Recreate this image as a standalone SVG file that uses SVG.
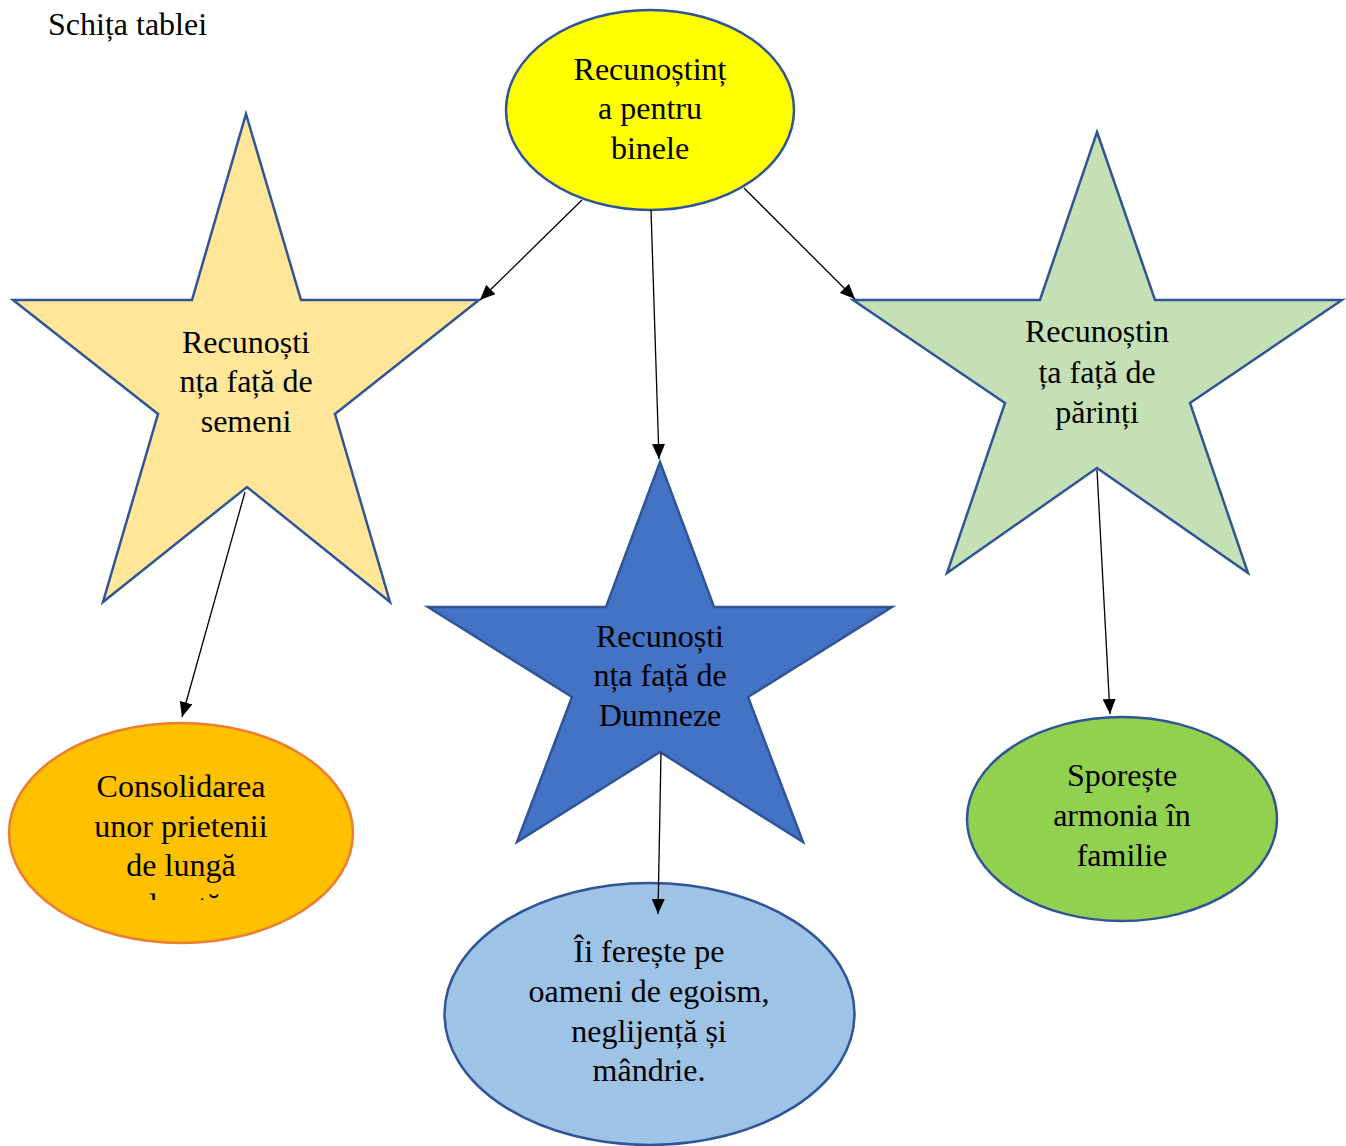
<svg xmlns="http://www.w3.org/2000/svg" width="1346" height="1146" viewBox="0 0 1346 1146">
<style>
text{font-family:"Liberation Serif","Times New Roman",serif;font-size:32px;fill:#000;}
.c{text-anchor:middle;}
.shape{stroke:#2F5597;stroke-width:2.5;stroke-linejoin:miter;}
.conn line{stroke:#000;stroke-width:1.3;marker-end:url(#ah);}
</style>
<defs>
<marker id="ah" markerUnits="userSpaceOnUse" markerWidth="15" markerHeight="13" refX="15" refY="6.5" orient="auto">
<path d="M0,0 L15,6.5 L0,13 z" fill="#000"/>
</marker>
<clipPath id="clipOrange"><rect x="0" y="700" width="400" height="200"/></clipPath>
</defs>
<rect width="1346" height="1146" fill="#fff"/>
<text x="48" y="35">Schița tablei</text>

<g id="node-root">
<ellipse class="shape" cx="650" cy="110" rx="144" ry="100" fill="#FFFF00"/>
<text class="c" x="650" y="80">Recunoștinț</text>
<text class="c" x="650" y="119">a pentru</text>
<text class="c" x="650" y="159">binele</text>
</g>

<g id="node-semeni">
<polygon class="shape" fill="#FFE699" points="246,114 301,300 479,300 335,414 390,602 247,487 103,602 158,414 13,300 192,300"/>
<text class="c" x="246" y="353">Recunoști</text>
<text class="c" x="246" y="392">nța față de</text>
<text class="c" x="246" y="432">semeni</text>
</g>

<g id="node-dumnezeu">
<polygon class="shape" fill="#4472C4" stroke-width="2" points="660,462 714,607 892,607 748,697 803,842 660,752 517,842 572,697 428,607 606,607"/>
<text class="c" x="660" y="647">Recunoști</text>
<text class="c" x="660" y="686">nța față de</text>
<text class="c" x="660" y="726">Dumneze</text>
</g>

<g id="node-parinti">
<polygon class="shape" fill="#C5E0B4" points="1097,132 1155,300 1342,300 1190,403 1248,573 1097,468 947,573 1005,403 853,300 1040,300"/>
<text class="c" x="1097" y="342">Recunoștin</text>
<text class="c" x="1097" y="383">ța față de</text>
<text class="c" x="1097" y="423">părinți</text>
</g>

<g id="node-prietenii">
<ellipse cx="181" cy="833" rx="172" ry="110" fill="#FFC000" stroke="#ED7D31" stroke-width="2.5"/>
<g clip-path="url(#clipOrange)">
<text class="c" x="181" y="797">Consolidarea</text>
<text class="c" x="181" y="837">unor prietenii</text>
<text class="c" x="181" y="876">de lungă</text>
<text class="c" x="181" y="916">durată</text>
</g>
</g>

<g id="node-egoism">
<ellipse class="shape" cx="649.5" cy="1014" rx="205" ry="131" fill="#9DC3E6" stroke-width="2"/>
<text class="c" x="649" y="962">Îi ferește pe</text>
<text class="c" x="649" y="1002">oameni de egoism,</text>
<text class="c" x="649" y="1042">neglijență și</text>
<text class="c" x="649" y="1081">mândrie.</text>
</g>

<g id="node-armonia">
<ellipse class="shape" cx="1122" cy="819" rx="155" ry="102" fill="#92D050" stroke-width="2"/>
<text class="c" x="1122" y="786">Sporește</text>
<text class="c" x="1122" y="826">armonia în</text>
<text class="c" x="1122" y="866">familie</text>
</g>

<g id="connectors" class="conn">
<line x1="582" y1="200" x2="480" y2="300"/>
<line x1="651" y1="210" x2="659" y2="459"/>
<line x1="744" y1="188" x2="855" y2="299"/>
<line x1="245" y1="492" x2="182" y2="717"/>
<line x1="661" y1="753" x2="658" y2="914"/>
<line x1="1097" y1="470" x2="1110" y2="714"/>
</g>
</svg>
